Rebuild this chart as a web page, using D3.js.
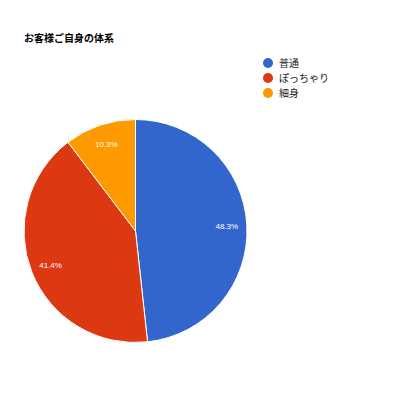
<!DOCTYPE html>
<html>
<head>
<meta charset="utf-8">
<script src="https://d3js.org/d3.v7.min.js"></script>
<style>
  body { margin: 0; background: #fff; }
  svg { font-family: "Liberation Sans", Arial, "Noto Sans CJK JP", sans-serif; }
</style>
</head>
<body>
<div id="chart"></div>
<script>
  // counts per body type (14 / 12 / 3 of 29 respondents)
  var categories = ['普通', 'ぽっちゃり', '細身'];
  var counts = [14, 12, 3];
  var colors = ['#3366cc', '#dc3912', '#ff9900'];

  var width = 400, height = 400;
  var cx = 135.5, cy = 231, radius = 111.5;

  var svg = d3.select('#chart').append('svg')
    .attr('width', width)
    .attr('height', height);

  svg.append('text')
    .attr('x', 24)
    .attr('y', 42)
    .attr('font-size', 10)
    .attr('font-weight', 'bold')
    .attr('fill', '#000')
    .text('お客様ご自身の体系');

  var total = d3.sum(counts);
  var data = categories.map((c, i) => ({ name: c, value: counts[i], color: colors[i] }));

  var pie = d3.pie().value(d => d.value).sort(null);
  var arc = d3.arc().innerRadius(0).outerRadius(radius);
  var labelArc = d3.arc().innerRadius(radius * 0.82).outerRadius(radius * 0.82);

  var g = svg.append('g').attr('transform', 'translate(' + cx + ',' + cy + ')');

  g.selectAll('path')
    .data(pie(data))
    .enter()
    .append('path')
    .attr('d', arc)
    .attr('fill', d => d.data.color)
    .attr('stroke', '#fff')
    .attr('stroke-width', 1);

  g.selectAll('text')
    .data(pie(data))
    .enter()
    .append('text')
    .attr('transform', d => 'translate(' + labelArc.centroid(d) + ')')
    .attr('text-anchor', 'middle')
    .attr('dy', '0.35em')
    .attr('font-size', 8)
    .attr('fill', '#fff')
    .text(d => (d.data.value / total * 100).toFixed(1) + '%');

  var legend = svg.append('g').attr('transform', 'translate(268,63)');
  var item = legend.selectAll('g')
    .data(data)
    .enter()
    .append('g')
    .attr('transform', (d, i) => 'translate(0,' + i * 15 + ')');

  item.append('circle')
    .attr('r', 5)
    .attr('fill', d => d.color);

  item.append('text')
    .attr('x', 11)
    .attr('dy', '0.35em')
    .attr('font-size', 10)
    .attr('fill', '#222')
    .text(d => d.name);
</script>
</body>
</html>
